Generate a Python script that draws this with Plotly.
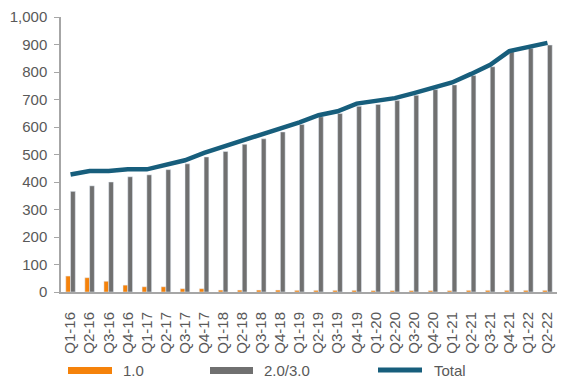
import plotly.graph_objects as go

quarters = ["Q1-16","Q2-16","Q3-16","Q4-16","Q1-17","Q2-17","Q3-17","Q4-17",
            "Q1-18","Q2-18","Q3-18","Q4-18","Q1-19","Q2-19","Q3-19","Q4-19",
            "Q1-20","Q2-20","Q3-20","Q4-20","Q1-21","Q2-21","Q3-21","Q4-21",
            "Q1-22","Q2-22"]
v1 = [58,52,39,25,19,19,12,12,7,7,7,7,6,6,6,6,5,5,5,5,5,6,6,6,6,6]
v23 = [366,386,400,419,426,445,466,491,511,537,557,582,609,637,649,675,
       682,696,715,736,753,787,819,874,886,898]
total = [427,440,440,446,446,462,479,506,528,549,569,594,617,643,657,685,
         693,705,723,741,762,793,826,876,892,906]
yticks = [0,100,200,300,400,500,600,700,800,900,1000]
ytext = ["0","100","200","300","400","500","600","700","800","900","1,000"]

ORANGE = "#F5820A"
GRAY = "#707070"
BLUE = "#175E7C"
TXT = "#595959"
FONT = "Liberation Sans, Arial, sans-serif"

fig = go.Figure()
fig.add_trace(go.Bar(x=quarters, y=v1, name="1.0", marker_color=ORANGE, showlegend=False))
fig.add_trace(go.Bar(x=quarters, y=v23, name="2.0/3.0", marker_color=GRAY, showlegend=False))
fig.add_trace(go.Scatter(x=quarters, y=total, name="Total", mode="lines",
                         line=dict(color=BLUE, width=4.5), showlegend=False))

W, H = 572, 389
OFF = 8  # page body margin
# desired screen positions of plot area
SL, SR, ST, SB = 61, 557, 17, 292
L, T = SL - OFF, ST - OFF
R = W - (SR - OFF)
B = H - (SB - OFF)
pw, ph = W - L - R, H - T - B

def px(x):
    return (x - SL) / pw

def py(y):
    return (SB - y) / ph

shapes = [
    dict(type="rect", xref="paper", yref="paper", x0=px(68), x1=px(112), y0=py(374), y1=py(367),
         fillcolor=ORANGE, line=dict(width=0)),
    dict(type="rect", xref="paper", yref="paper", x0=px(210), x1=px(253), y0=py(374), y1=py(367),
         fillcolor=GRAY, line=dict(width=0)),
    dict(type="line", xref="paper", yref="paper", x0=px(378), x1=px(422), y0=py(370), y1=py(370),
         line=dict(color=BLUE, width=5)),
]
annotations = [
    dict(text=t, xref="paper", yref="paper", x=px(xp), y=py(370), xanchor="left", yanchor="middle",
         showarrow=False, font=dict(family=FONT, size=15, color=TXT))
    for t, xp in [("1.0", 121), ("2.0/3.0", 262), ("Total", 432)]
]

fig.update_layout(
    width=W, height=H,
    margin=dict(l=L, r=R, t=T, b=B, pad=0),
    paper_bgcolor="white", plot_bgcolor="white",
    barmode="group", bargap=0.5, bargroupgap=0,
    font=dict(family=FONT, size=15, color=TXT),
    shapes=shapes, annotations=annotations,
    showlegend=False,
)
fig.update_xaxes(type="category", range=[-0.5, 25.5], tickangle=-90,
                 showline=True, linecolor="#A6A6A6", linewidth=2,
                 ticks="", showgrid=False, ticklabelstandoff=12, automargin=False,
                 tickfont=dict(family=FONT, size=15, color=TXT))
fig.update_yaxes(range=[0, 1000], tickvals=yticks, ticktext=ytext,
                 showline=True, linecolor="#A6A6A6", linewidth=1.5,
                 ticks="outside", ticklen=5, tickcolor="#A6A6A6",
                 showgrid=False, zeroline=False, ticklabelstandoff=4, automargin=False,
                 ticklabeloverflow="allow",
                 tickfont=dict(family=FONT, size=15, color=TXT))

fig.write_html("out.html", config={"responsive": False})
